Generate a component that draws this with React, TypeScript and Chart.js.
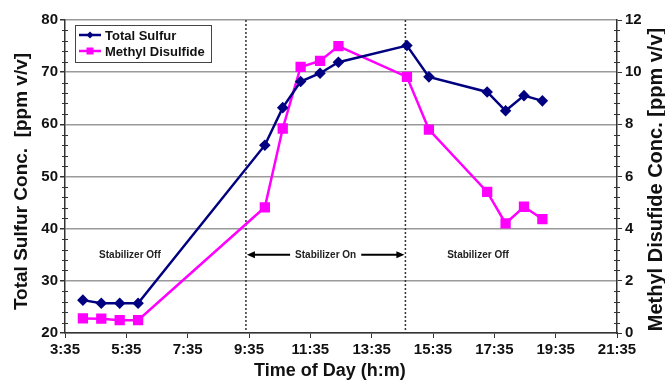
import { useEffect, useRef } from "react";
import { Chart, registerables } from "chart.js";

Chart.register(...registerables);

// sample times in minutes after midnight
const sampleTimes = [250, 286, 322, 358, 606, 641, 676, 714, 750, 884, 927, 1041, 1077, 1113, 1149];
const totalSulfur = [26.3, 25.7, 25.7, 25.7, 56.0, 63.2, 68.2, 69.8, 71.9, 75.1, 69.1, 66.2, 62.6, 65.5, 64.5];
const methylDisulfide = [0.56, 0.55, 0.49, 0.49, 4.82, 7.84, 10.2, 10.43, 11.0, 9.82, 7.8, 5.41, 4.2, 4.84, 4.37];

const xTickMinutes = [215, 335, 455, 575, 695, 815, 935, 1055, 1175, 1295];
const leftTicks = [20, 30, 40, 50, 60, 70, 80];
const rightTicks = [0, 2, 4, 6, 8, 10, 12];
const leftMinorStep = 2;
const rightMinorStep = 0.4;

const stabilizerSwitchTimes = [569, 881];
const phaseLabelLevel = 35;
const phaseOffLabels = [
  { text: "Stabilizer Off", time: 342 },
  { text: "Stabilizer Off", time: 1023 },
];
const phaseOnLabel = "Stabilizer On";

const seriesNames = ["Total Sulfur", "Methyl Disulfide"];
const seriesColors = ["#000080", "#FF00FF"];

const xTitle = "Time of Day (h:m)";
const leftTitle = "Total Sulfur Conc.  [ppm v/v]";
const rightTitle = "Methyl Disufide Conc. [ppm v/v]";

const FONT = "'Liberation Sans', Arial, sans-serif";

function fmtTime(m: number) {
  const h = Math.floor(m / 60);
  const mm = Math.round(m % 60);
  return `${h}:${mm < 10 ? "0" : ""}${mm}`;
}

const overlayPlugin = {
  id: "overlay",
  beforeDatasetsDraw(chart: any) {
    const { ctx, chartArea, scales } = chart;
    ctx.save();
    ctx.strokeStyle = "#333";
    ctx.lineWidth = 1.5;
    ctx.setLineDash([2, 2]);
    stabilizerSwitchTimes.forEach((t) => {
      const x = scales.x.getPixelForValue(t);
      ctx.beginPath();
      ctx.moveTo(x, chartArea.top);
      ctx.lineTo(x, chartArea.bottom);
      ctx.stroke();
    });
    ctx.restore();
  },
  afterDraw(chart: any) {
    const { ctx, chartArea, scales } = chart;
    ctx.save();
    // minor ticks
    ctx.strokeStyle = "#333";
    ctx.lineWidth = 1;
    const yl = scales.y;
    for (let v = yl.min; v <= yl.max + 1e-9; v += leftMinorStep) {
      if (Math.abs(v % 10) < 1e-6) continue;
      const y = Math.round(yl.getPixelForValue(v)) + 0.5;
      ctx.beginPath();
      ctx.moveTo(chartArea.left - 3, y);
      ctx.lineTo(chartArea.left + 3, y);
      ctx.stroke();
    }
    const yr = scales.y1;
    for (let i = 1; i * rightMinorStep < yr.max; i++) {
      if (i % 5 === 0) continue;
      const y = Math.round(yr.getPixelForValue(i * rightMinorStep)) + 0.5;
      ctx.beginPath();
      ctx.moveTo(chartArea.right - 3, y);
      ctx.lineTo(chartArea.right + 3, y);
      ctx.stroke();
    }

    // axis titles
    ctx.fillStyle = "#111";
    ctx.textAlign = "center";
    ctx.textBaseline = "middle";
    ctx.font = `bold 18px ${FONT}`;
    ctx.fillText(xTitle, chartArea.left + (chartArea.right - chartArea.left) * 0.48, chart.height - 11);
    ctx.save();
    ctx.translate(22, (chartArea.top + chartArea.bottom) / 2 + 5);
    ctx.rotate(-Math.PI / 2);
    ctx.font = `bold 19px ${FONT}`;
    ctx.fillText(leftTitle, 0, 0);
    ctx.restore();
    ctx.save();
    ctx.translate(chart.width - 9, (chartArea.top + chartArea.bottom) / 2 + 3);
    ctx.rotate(-Math.PI / 2);
    ctx.font = `bold 20px ${FONT}`;
    ctx.fillText(rightTitle, 0, 0);
    ctx.restore();

    // phase labels
    ctx.fillStyle = "#222";
    ctx.font = `bold 10px ${FONT}`;
    ctx.textAlign = "center";
    ctx.textBaseline = "middle";
    const ly = yl.getPixelForValue(phaseLabelLevel);
    phaseOffLabels.forEach((p) => {
      ctx.fillText(p.text, scales.x.getPixelForValue(p.time), ly);
    });
    const x1 = scales.x.getPixelForValue(stabilizerSwitchTimes[0]);
    const x2 = scales.x.getPixelForValue(stabilizerSwitchTimes[1]);
    const cx = (x1 + x2) / 2;
    ctx.fillText(phaseOnLabel, cx, ly);
    const tw = ctx.measureText(phaseOnLabel).width;
    const drawArrow = (from: number, to: number) => {
      ctx.strokeStyle = "#000";
      ctx.fillStyle = "#000";
      ctx.lineWidth = 2;
      ctx.setLineDash([]);
      const dir = Math.sign(to - from);
      ctx.beginPath();
      ctx.moveTo(from, ly);
      ctx.lineTo(to - dir * 6, ly);
      ctx.stroke();
      ctx.beginPath();
      ctx.moveTo(to, ly);
      ctx.lineTo(to - dir * 8, ly - 3.5);
      ctx.lineTo(to - dir * 8, ly + 3.5);
      ctx.closePath();
      ctx.fill();
    };
    drawArrow(cx - tw / 2 - 5, x1 + 1);
    drawArrow(cx + tw / 2 + 5, x2 - 1);

    // legend
    const bx = chartArea.left + 10;
    const by = chartArea.top + 5;
    const bw = 136;
    const bh = 37;
    ctx.fillStyle = "#fff";
    ctx.fillRect(bx, by, bw, bh);
    ctx.strokeStyle = "#444";
    ctx.lineWidth = 1;
    ctx.strokeRect(bx + 0.5, by + 0.5, bw, bh);
    ctx.font = `bold 13px ${FONT}`;
    ctx.textAlign = "left";
    seriesNames.forEach((name, i) => {
      const yy = by + 10 + i * 16;
      ctx.strokeStyle = seriesColors[i];
      ctx.fillStyle = seriesColors[i];
      ctx.lineWidth = 2.5;
      ctx.beginPath();
      ctx.moveTo(bx + 4, yy);
      ctx.lineTo(bx + 26, yy);
      ctx.stroke();
      const mx = bx + 15;
      ctx.beginPath();
      if (i === 0) {
        ctx.moveTo(mx, yy - 3.5);
        ctx.lineTo(mx + 3.5, yy);
        ctx.lineTo(mx, yy + 3.5);
        ctx.lineTo(mx - 3.5, yy);
        ctx.closePath();
      } else {
        ctx.rect(mx - 3.5, yy - 3.5, 7, 7);
      }
      ctx.fill();
      ctx.fillStyle = "#111";
      ctx.fillText(name, bx + 30, yy + 1);
    });
    ctx.restore();
  },
};

export default function App() {
  const ref = useRef<HTMLCanvasElement>(null);
  useEffect(() => {
    if (!ref.current) return;
    const tickFont = { family: FONT, size: 15, weight: "bold" };
    const chart = new Chart(ref.current, {
      type: "line",
      data: {
        datasets: [
          {
            label: seriesNames[0],
            data: sampleTimes.map((t, i) => ({ x: t, y: totalSulfur[i] })),
            yAxisID: "y",
            borderColor: seriesColors[0],
            backgroundColor: seriesColors[0],
            borderWidth: 2.5,
            pointStyle: "rectRot",
            pointRadius: 4,
            pointHoverRadius: 4,
            tension: 0,
          },
          {
            label: seriesNames[1],
            data: sampleTimes.map((t, i) => ({ x: t, y: methylDisulfide[i] })),
            yAxisID: "y1",
            borderColor: seriesColors[1],
            backgroundColor: seriesColors[1],
            borderWidth: 2.5,
            pointStyle: "rect",
            pointRadius: 5.5,
            pointHoverRadius: 5.5,
            tension: 0,
          },
        ],
      },
      options: {
        animation: false,
        responsive: false,
        layout: { padding: { top: 20, left: 0, right: 0, bottom: 0 } },
        plugins: { legend: { display: false }, tooltip: { enabled: false } },
        scales: {
          x: {
            type: "linear",
            min: xTickMinutes[0],
            max: xTickMinutes[xTickMinutes.length - 1],
            afterBuildTicks: (s: any) => {
              s.ticks = xTickMinutes.map((v) => ({ value: v }));
            },
            afterFit: (s: any) => {
              s.height = 49;
            },
            ticks: {
              callback: (v: any) => fmtTime(Number(v)),
              font: tickFont,
              color: "#111",
              padding: 3,
              maxRotation: 0,
              autoSkip: false,
            },
            grid: { drawOnChartArea: false, drawTicks: true, tickLength: 5, tickColor: "#333" },
            border: { color: "#333", width: 1.5 },
          },
          y: {
            position: "left",
            min: leftTicks[0],
            max: leftTicks[leftTicks.length - 1],
            afterBuildTicks: (s: any) => {
              s.ticks = leftTicks.map((v) => ({ value: v }));
            },
            afterFit: (s: any) => {
              s.width = 65;
            },
            ticks: { font: tickFont, color: "#111", padding: 2 },
            grid: { color: "#999", lineWidth: 1.5, tickLength: 5, tickColor: "#333" },
            border: { color: "#333", width: 1.5 },
          },
          y1: {
            position: "right",
            min: rightTicks[0],
            max: rightTicks[rightTicks.length - 1],
            afterBuildTicks: (s: any) => {
              s.ticks = rightTicks.map((v) => ({ value: v }));
            },
            afterFit: (s: any) => {
              s.width = 48;
            },
            ticks: { font: tickFont, color: "#111", padding: 3 },
            grid: { drawOnChartArea: false, tickLength: 5, tickColor: "#333" },
            border: { color: "#333", width: 1.5 },
          },
        },
      },
      plugins: [overlayPlugin],
    } as any);
    return () => chart.destroy();
  }, []);
  return (
    <div style={{ position: "absolute", left: 0, top: 0, width: 665, height: 382, background: "#fff" }}>
      <canvas ref={ref} width={665} height={382} style={{ display: "block" }} />
    </div>
  );
}
